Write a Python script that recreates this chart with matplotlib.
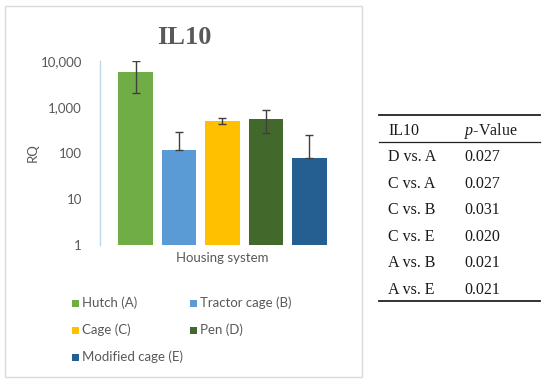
import matplotlib
matplotlib.use("Agg")
import matplotlib.pyplot as plt
from matplotlib.patches import Rectangle
from matplotlib.lines import Line2D
import numpy as np

plt.rcParams["mathtext.fontset"] = "custom"
plt.rcParams["mathtext.it"] = "Liberation Serif:italic"
plt.rcParams["mathtext.rm"] = "Liberation Serif"

# ---- data ----
categories = ["Hutch (A)", "Tractor cage (B)", "Cage (C)", "Pen (D)", "Modified cage (E)"]
values = [5750, 117, 500, 550, 79]
err_low = [3750, 0, 75, 280, 0]
err_high = [4250, 173, 65, 300, 167]
colors = ["#70AD47", "#5B9BD5", "#FFC000", "#43682B", "#255E91"]
yticks = [1, 10, 100, 1000, 10000]
ytick_labels = ["1", "10", "100", "1,000", "10,000"]

table_header = ["IL10", "$p$-Value"]
table_rows = ["D vs. A", "C vs. A", "C vs. B", "C vs. E", "A vs. B", "A vs. E"]
table_pvals = ["0.027", "0.027", "0.031", "0.020", "0.021", "0.021"]

W, H = 550, 382
fig = plt.figure(figsize=(W / 100, H / 100), dpi=100)

def fx(px):
    return px / W

def fy(py):
    return 1 - py / H

TXT = "#595959"
SANS = "Lato"
FS = 9.5

# chart frame
fig.patches.append(Rectangle((fx(5), fy(377)), fx(362) - fx(5), fy(6) - fy(377),
                             transform=fig.transFigure, fill=False,
                             edgecolor="#D9D9D9", linewidth=1.0))

ax = fig.add_axes([fx(100), fy(245), fx(345) - fx(100), fy(61) - fy(245)])
x = np.arange(len(categories))
ax.bar(x, values, width=0.8, color=colors, zorder=2)
ax.errorbar(x, values, yerr=[err_low, err_high], fmt="none", ecolor="#404040",
            elinewidth=1.0, capsize=3, capthick=1.0, zorder=3)
ax.set_yscale("log")
ax.set_ylim(1, 10000)
ax.set_xlim(-0.82, 4.82)
ax.set_yticks(yticks)
ax.set_yticklabels(ytick_labels)
ax.yaxis.set_minor_locator(matplotlib.ticker.NullLocator())
ax.set_xticks([])
ax.tick_params(axis="y", length=0, pad=13, labelsize=FS, labelcolor=TXT)
for lbl in ax.get_yticklabels():
    lbl.set_fontfamily(SANS)
for s in ["top", "right", "bottom"]:
    ax.spines[s].set_visible(False)
ax.spines["left"].set_color("#BDD7EE")
ax.spines["left"].set_linewidth(1.0)
ax.set_facecolor("none")

fig.text(fx(222), fy(258), "Housing system", ha="center", va="center",
         fontsize=FS, color=TXT, family=SANS)
fig.text(fx(33), fy(153), "RQ", ha="center", va="center", rotation=90,
         fontsize=FS, color=TXT, family=SANS)
fig.text(fx(184), fy(37), "IL10", ha="center", va="center", fontsize=19,
         fontweight="bold", color="#595959", family="Liberation Serif")

# legend
leg_pos = [(72, 303), (190, 303), (72, 330), (190, 330), (72, 357)]
for (lx, ly), name, c in zip(leg_pos, categories, colors):
    fig.patches.append(Rectangle((fx(lx), fy(ly + 3.5)), fx(7), 7 / H,
                                 transform=fig.transFigure, facecolor=c,
                                 edgecolor="none"))
    fig.text(fx(lx + 10), fy(ly), name, ha="left", va="center",
             fontsize=FS, color=TXT, family=SANS)

# table
SERIF = "Liberation Serif"
TFS = 11.5
TC = "#1a1a1a"
tx0, tx1 = 379, 540
for yy in (115, 301):
    fig.add_artist(Line2D([fx(tx0), fx(tx1)], [fy(yy), fy(yy)],
                          transform=fig.transFigure, color="#222222", linewidth=1.3))
fig.add_artist(Line2D([fx(tx0), fx(tx1)], [fy(142), fy(142)],
                      transform=fig.transFigure, color="#222222", linewidth=0.9))
fig.text(fx(388), fy(131), table_header[0], ha="left", va="center",
         fontsize=TFS, color=TC, family=SERIF)
fig.text(fx(464), fy(131), table_header[1], ha="left", va="center",
         fontsize=TFS, color=TC, family=SERIF)
row_y = [157, 183.5, 210, 237, 263, 290]
for yy, r, p in zip(row_y, table_rows, table_pvals):
    fig.text(fx(388), fy(yy), r, ha="left", va="center",
             fontsize=TFS, color=TC, family=SERIF)
    fig.text(fx(464), fy(yy), p, ha="left", va="center",
             fontsize=TFS, color=TC, family=SERIF)

fig.savefig("out.png", dpi=100)
